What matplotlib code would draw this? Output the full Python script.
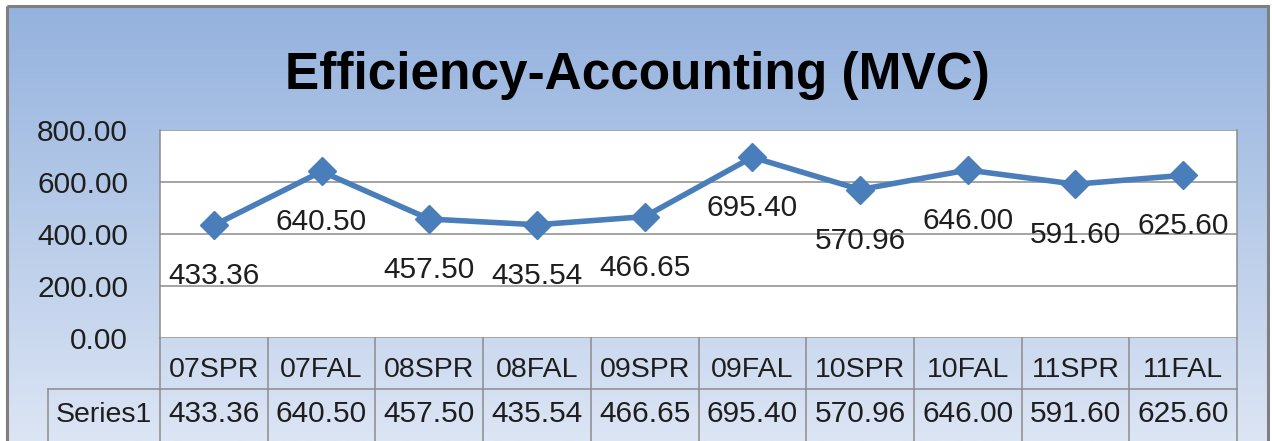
import matplotlib.pyplot as plt
import numpy as np
from matplotlib.colors import LinearSegmentedColormap
from matplotlib.patches import Rectangle

# Data
categories = ['07SPR', '07FAL', '08SPR', '08FAL', '09SPR',
              '09FAL', '10SPR', '10FAL', '11SPR', '11FAL']
values = [433.36, 640.50, 457.50, 435.54, 466.65,
          695.40, 570.96, 646.00, 591.60, 625.60]
series_name = 'Series1'
title = 'Efficiency-Accounting (MVC)'

W, H = 1272, 441
plt.rcParams['font.family'] = ['Liberation Sans', 'DejaVu Sans']
txt_color = '#1e1e1e'
grid_color = '#8c8c8c'
line_color = '#4a7ebb'
num_size = 21.5


def box(x0, y0, x1, y1):
    # pixel box measured from top-left -> figure fraction rect
    return [x0 / W, 1 - y1 / H, (x1 - x0) / W, (y1 - y0) / H]


fig = plt.figure(figsize=(W / 100, H / 100), dpi=100)

# chart area background: blue vertical gradient + gray frame
bg = fig.add_axes([0, 0, 1, 1])
grad = np.linspace(0, 1, 256).reshape(-1, 1)
cmap = LinearSegmentedColormap.from_list('bg', ['#94b2de', '#dce5f4'])
bg.imshow(grad, cmap=cmap, aspect='auto', extent=(7, 1268, 441, 6))
bg.add_patch(Rectangle((7, 6), 1261, 470, fill=False, ec='#7f7f7f', lw=2.2))
bg.set_xlim(0, W)
bg.set_ylim(H, 0)
bg.axis('off')

fig.text(637.5 / W, 1 - 89 / H, title, ha='center', va='baseline',
         fontsize=37, fontweight='bold', color='black')

# plot area
ax = fig.add_axes(box(160, 130, 1237, 338))
x = np.arange(len(categories))
ax.set_xlim(-0.5, len(categories) - 0.5)
ax.set_ylim(0, 800)
ax.set_facecolor('white')
ax.set_yticks(np.arange(0, 801, 200))
ax.yaxis.set_major_formatter(lambda v, p: f'{v:.2f}')
ax.tick_params(axis='y', length=0, pad=23, labelsize=num_size, labelcolor=txt_color)
ax.set_xticks([])
ax.set_axisbelow(True)
ax.grid(axis='y', color=grid_color, lw=1.1)
for s in ['top', 'bottom']:
    ax.spines[s].set_visible(False)
for s in ['left', 'right']:
    ax.spines[s].set_color(grid_color)
    ax.spines[s].set_linewidth(1.1)

ax.plot(x, values, color=line_color, lw=4, marker='D', ms=14,
        mfc=line_color, mec=line_color, zorder=3, clip_on=False)
for xi, v in zip(x, values):
    ax.annotate(f'{v:.2f}', (xi, v), xytext=(0, -42.5), textcoords='offset points',
                ha='center', va='baseline', fontsize=num_size, color=txt_color)

# data table under the plot
tab = fig.add_axes(box(160, 338, 1237, 441), sharex=ax)
tab.set_ylim(-0.02, 2)
tab.axis('off')
label_w = 112 / 107.7
left = -0.5 - label_w
tab.plot([left, len(categories) - 0.5], [1, 1], color=grid_color, lw=1.1, clip_on=False)
tab.plot([left, left], [-0.02, 1], color=grid_color, lw=1.1, clip_on=False)
for k in range(len(categories) + 1):
    tab.plot([k - 0.5, k - 0.5], [-0.02, 2], color=grid_color, lw=1.1, clip_on=False)

for xi, cat, v in zip(x, categories, values):
    tab.text(xi, 1.235, cat, ha='center', va='baseline', fontsize=20.5, color=txt_color)
    tab.text(xi, 0.353, f'{v:.2f}', ha='center', va='baseline', fontsize=num_size, color=txt_color)
tab.text(left + label_w / 2, 0.353, series_name, ha='center', va='baseline',
         fontsize=20.5, color=txt_color, clip_on=False)

fig.savefig('out.png', dpi=100)
